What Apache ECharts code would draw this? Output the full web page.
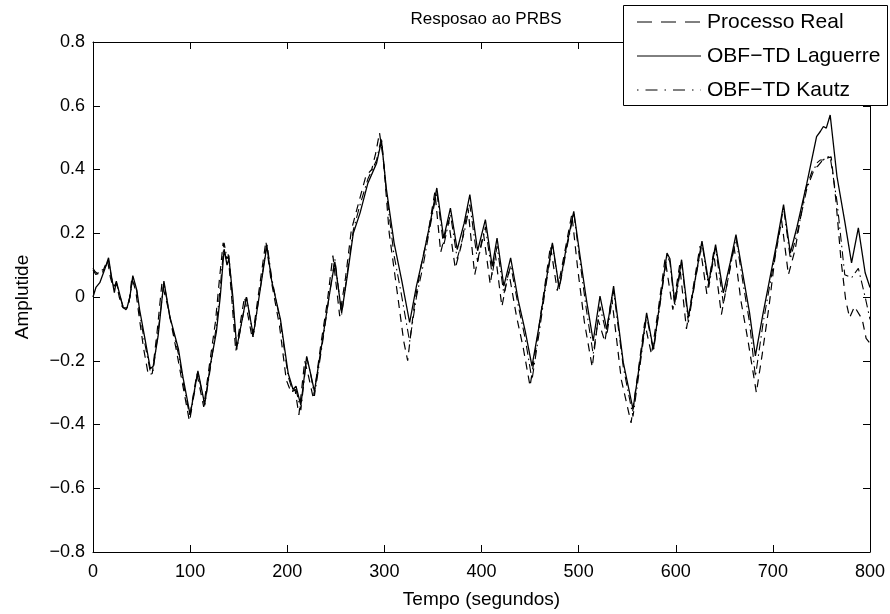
<!DOCTYPE html>
<html>
<head>
<meta charset="utf-8">
<script src="https://cdn.jsdelivr.net/npm/echarts@6/dist/echarts.min.js"></script>
<style>html,body{margin:0;padding:0;background:#fff}#c{width:890px;height:614px}</style>
</head>
<body>
<div id="c"></div>
<script>
// ---- data ----
const xTicks = [0,100,200,300,400,500,600,700,800];
const yTicks = [-0.8,-0.6,-0.4,-0.2,0,0.2,0.4,0.6,0.8];
const seriesNames = ['Processo Real','OBF\u2212TD Laguerre','OBF\u2212TD Kautz'];

const tReal = [0,2,4,6,9,12,15,18,21,24,27,30,34,37,40,44,47,52,57,61,66,71,77,86,92,99,107,114,120,126,130,134,137,139,143,147,156,164,178,183,192,199,204,208,212,218,222,227,235,241,247,254,260,266,273,281,287,291,295,299,305,313,320,324,327,331,338,345,352,358,366,373,379,386,393,402,409,414,421,428,436,443,450,457,464,471,478,485,493,499,506,514,520,527,534,544,554,561,568,575,582,589,597,604,611,618,625,632,639,647,654,660,667,674,683,689,696,702,709,716,723,733,741,746,750,755,760,765,770,775,779,784,792,796,800];
const yReal = [0.09,0.08,0.085,0.07,0.07,0.095,0.115,0.06,0.03,0.045,0.0,-0.03,-0.04,-0.02,0.06,0.02,-0.05,-0.16,-0.245,-0.24,-0.11,0.045,-0.03,-0.17,-0.27,-0.385,-0.24,-0.345,-0.21,-0.08,0.05,0.17,0.12,0.14,-0.01,-0.17,0.0,-0.13,0.175,0.06,-0.09,-0.26,-0.3,-0.29,-0.37,-0.2,-0.25,-0.32,-0.14,-0.02,0.13,-0.06,0.06,0.21,0.29,0.38,0.40,0.45,0.515,0.43,0.2,0.02,-0.14,-0.2,-0.12,-0.02,0.1,0.2,0.33,0.14,0.24,0.09,0.16,0.28,0.07,0.2,0.04,0.14,-0.03,0.08,-0.06,-0.16,-0.28,-0.14,0.01,0.16,0.02,0.13,0.26,0.09,-0.08,-0.22,-0.07,-0.14,0.0,-0.26,-0.395,-0.24,-0.08,-0.18,-0.04,0.12,-0.04,0.1,-0.1,0.03,0.16,0.01,0.14,-0.055,0.06,0.16,-0.01,-0.13,-0.30,-0.18,-0.03,0.12,0.24,0.07,0.15,0.33,0.40,0.41,0.425,0.435,0.44,0.30,0.12,-0.01,-0.065,-0.03,-0.07,-0.13,-0.145];

const tModel = [0,3,7,12,16,19,22,24,28,31,35,38,41,45,48,53,59,62,67,73,79,88,93,100,108,115,121,127,131,135,138,140,144,148,158,165,179,184,193,201,206,209,214,220,224,228,237,243,249,256,262,268,275,283,292,297,302,310,318,326,333,340,347,354,361,368,375,382,388,396,404,411,416,423,430,438,445,452,459,466,473,480,487,495,501,508,515,522,529,536,546,556,563,570,577,584,591,594,599,606,613,620,627,634,641,649,656,662,670,676,682,690,697,704,711,718,725,735,745,749,752,755,759,766,774,781,788,795,800];
const yLaguerre = [0.0,0.03,0.045,0.086,0.123,0.065,0.014,0.05,0.003,-0.034,-0.034,0.0,0.067,0.023,-0.04,-0.123,-0.225,-0.217,-0.123,0.05,-0.06,-0.164,-0.258,-0.37,-0.232,-0.337,-0.21,-0.11,0.0,0.15,0.10,0.12,0.0,-0.16,0.0,-0.12,0.16,0.05,-0.07,-0.24,-0.29,-0.28,-0.34,-0.186,-0.24,-0.296,-0.12,0.0,0.11,-0.05,0.07,0.2,0.264,0.357,0.42,0.49,0.34,0.17,0.05,-0.08,0.034,0.128,0.23,0.342,0.185,0.279,0.149,0.23,0.321,0.145,0.243,0.096,0.185,0.034,0.123,-0.013,-0.107,-0.217,-0.096,0.04,0.17,0.029,0.15,0.269,0.138,-0.008,-0.138,0.003,-0.102,0.034,-0.206,-0.352,-0.206,-0.05,-0.164,-0.01,0.138,0.12,-0.018,0.117,-0.065,0.055,0.175,0.044,0.164,0.013,0.107,0.196,0.055,-0.05,-0.185,-0.05,0.06,0.17,0.29,0.138,0.222,0.357,0.503,0.52,0.535,0.53,0.571,0.378,0.237,0.107,0.217,0.076,0.03];
const yKautz = [0.085,0.07,0.08,0.09,0.115,0.06,0.03,0.045,0.0,-0.03,-0.035,0.0,0.06,0.02,-0.05,-0.14,-0.235,-0.23,-0.11,0.045,-0.06,-0.18,-0.27,-0.38,-0.235,-0.34,-0.22,-0.09,0.03,0.17,0.12,0.13,-0.02,-0.165,0.0,-0.125,0.17,0.06,-0.08,-0.25,-0.3,-0.29,-0.355,-0.19,-0.24,-0.31,-0.13,0.0,0.12,-0.055,0.08,0.21,0.29,0.37,0.43,0.50,0.33,0.13,0.0,-0.14,0.0,0.1,0.22,0.33,0.16,0.26,0.12,0.2,0.29,0.11,0.22,0.07,0.16,0.01,0.1,-0.03,-0.13,-0.26,-0.12,0.03,0.165,0.025,0.14,0.265,0.12,-0.04,-0.18,-0.03,-0.12,0.02,-0.22,-0.375,-0.22,-0.06,-0.17,-0.02,0.13,0.11,-0.03,0.11,-0.08,0.05,0.17,0.03,0.155,-0.02,0.09,0.185,0.03,-0.08,-0.25,-0.08,0.04,0.16,0.28,0.12,0.2,0.34,0.42,0.43,0.43,0.44,0.44,0.3,0.07,0.06,0.09,0.0,-0.07];

// ---- chart ----
const pair = (ts, ys) => ts.map((t, i) => [t, ys[i]]);
const fmtY = v => {
  if (Math.abs(v) < 1e-9) return '0';
  return v.toFixed(1).replace('-', '\u2212');
};
const FONT = 'Liberation Sans, Arial, Helvetica, sans-serif';
const axisCommon = () => ({
  axisLine: {show: true, onZero: false, lineStyle: {color: '#000', width: 1}},
  axisTick: {show: true, inside: true, length: 7, lineStyle: {color: '#000', width: 1}},
  splitLine: {show: false}
});
const chart = echarts.init(document.getElementById('c'), null, {renderer: 'canvas'});
chart.setOption({
  animation: false,
  backgroundColor: '#fff',
  title: {
    text: 'Resposao ao PRBS', left: 481, top: 6, textAlign: 'center',
    textStyle: {fontFamily: FONT, fontWeight: 'normal', fontSize: 17, color: '#000'}
  },
  grid: {left: 93, right: 20, top: 42, bottom: 61, containLabel: false},
  xAxis: [
    Object.assign(axisCommon(), {
      type: 'value', min: 0, max: 800, interval: 100, position: 'bottom',
      name: 'Tempo (segundos)', nameLocation: 'middle', nameGap: 38,
      nameTextStyle: {fontFamily: FONT, fontSize: 19, color: '#000'},
      axisLabel: {fontFamily: FONT, fontSize: 18, color: '#000', margin: 11,
        formatter: v => xTicks.includes(v) ? String(v) : ''}
    }),
    Object.assign(axisCommon(), {
      type: 'value', min: 0, max: 800, interval: 100, position: 'top',
      axisLabel: {show: false}
    })
  ],
  yAxis: [
    Object.assign(axisCommon(), {
      type: 'value', min: -0.8, max: 0.8, interval: 0.2, position: 'left',
      name: 'Amplutide', nameLocation: 'middle', nameGap: 61,
      nameTextStyle: {fontFamily: FONT, fontSize: 19, color: '#000'},
      axisLabel: {fontFamily: FONT, fontSize: 18, color: '#000', margin: 8,
        formatter: v => yTicks.some(t => Math.abs(t - v) < 1e-9) ? fmtY(v) : ''}
    }),
    Object.assign(axisCommon(), {
      type: 'value', min: -0.8, max: 0.8, interval: 0.2, position: 'right',
      axisLabel: {show: false}
    })
  ],
  series: [
    {name: seriesNames[0], type: 'line', showSymbol: false, symbol: 'none',
     data: pair(tReal, yReal), lineStyle: {color: '#000', width: 1.2, type: [8, 6]}, z: 3},
    {name: seriesNames[1], type: 'line', showSymbol: false, symbol: 'none',
     data: pair(tModel, yLaguerre), lineStyle: {color: '#000', width: 1.3, type: 'solid'}, z: 4},
    {name: seriesNames[2], type: 'line', showSymbol: false, symbol: 'none',
     data: pair(tModel, yKautz), lineStyle: {color: '#000', width: 1.1, type: [9, 4, 1.5, 4]}, z: 2}
  ],
  graphic: [
    {type: 'rect', z: 100, shape: {x: 623.5, y: 5.5, width: 264, height: 100},
     style: {fill: '#fff', stroke: '#000', lineWidth: 1}},
    {type: 'line', z: 101, shape: {x1: 637, y1: 22, x2: 701, y2: 22},
     style: {stroke: '#000', lineWidth: 1, lineDash: [15, 9]}},
    {type: 'line', z: 101, shape: {x1: 637, y1: 56, x2: 701, y2: 56},
     style: {stroke: '#000', lineWidth: 1}},
    {type: 'line', z: 101, shape: {x1: 637, y1: 90, x2: 701, y2: 90},
     style: {stroke: '#000', lineWidth: 1, lineDash: [1.5, 7, 12, 7]}},
    {type: 'text', z: 101, x: 707, y: 22, style: {text: seriesNames[0], fontFamily: FONT, fontSize: 21, fill: '#000', textVerticalAlign: 'middle'}},
    {type: 'text', z: 101, x: 707, y: 56, style: {text: seriesNames[1], fontFamily: FONT, fontSize: 21, fill: '#000', textVerticalAlign: 'middle'}},
    {type: 'text', z: 101, x: 707, y: 90, style: {text: seriesNames[2], fontFamily: FONT, fontSize: 21, fill: '#000', textVerticalAlign: 'middle'}}
  ]
});
</script>
</body>
</html>
